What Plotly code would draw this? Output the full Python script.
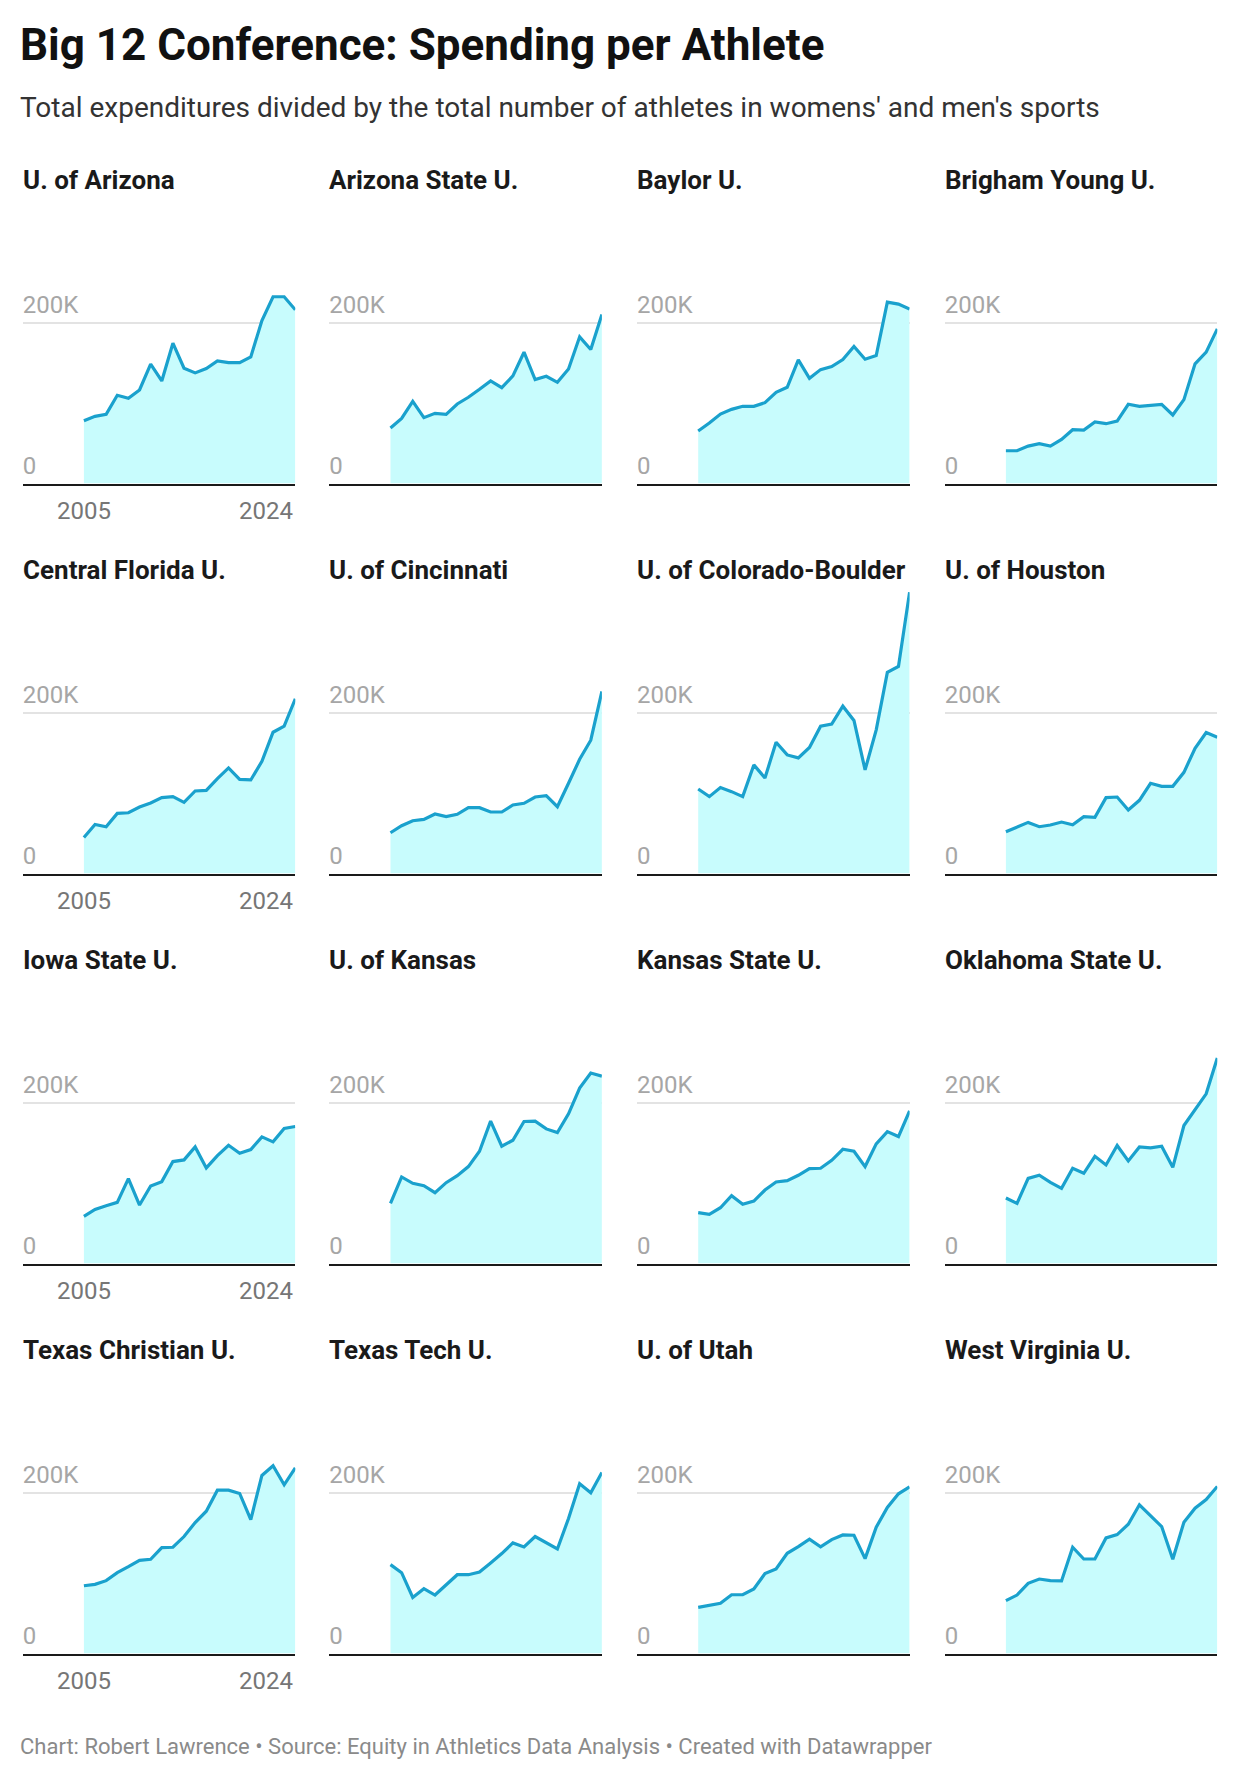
import plotly.graph_objects as go

years = list(range(2005, 2025))

schools = [
    "U. of Arizona", "Arizona State U.", "Baylor U.", "Brigham Young U.",
    "Central Florida U.", "U. of Cincinnati", "U. of Colorado-Boulder", "U. of Houston",
    "Iowa State U.", "U. of Kansas", "Kansas State U.", "Oklahoma State U.",
    "Texas Christian U.", "Texas Tech U.", "U. of Utah", "West Virginia U.",
]

# spending per athlete, thousands of dollars, 2005-2024
arizona = [78.0, 83.4, 85.9, 109.6, 105.8, 116.2, 148.2, 127.4, 174.3, 143.2, 137.4, 142.8, 152.3, 150.2, 150.2, 157.3, 202.5, 232.0, 232.0, 215.8]
arizona_state = [68.9, 80.9, 102.1, 81.8, 87.2, 85.9, 98.8, 107.1, 117.0, 127.4, 119.1, 133.6, 163.1, 129.1, 133.2, 125.7, 142.3, 182.2, 166.4, 210.0]
baylor = [65.2, 75.1, 86.3, 92.1, 95.9, 95.9, 100.4, 113.3, 119.5, 153.6, 130.7, 141.5, 145.3, 154.0, 170.2, 154.4, 158.9, 225.3, 222.9, 216.6]
byu = [40.7, 40.7, 46.5, 49.4, 46.5, 54.8, 66.8, 66.4, 76.4, 74.3, 77.6, 98.4, 95.9, 97.5, 98.4, 85.1, 104.2, 148.6, 163.1, 192.1]
ucf = [44.8, 61.0, 58.1, 74.7, 75.5, 82.6, 87.6, 94.2, 95.5, 88.4, 102.5, 103.3, 117.9, 131.1, 117.0, 116.2, 139.4, 175.5, 183.0, 217.0]
cincinnati = [50.6, 59.3, 65.6, 67.2, 73.9, 70.6, 73.5, 81.8, 81.8, 76.4, 76.4, 85.1, 87.2, 95.0, 96.7, 83.0, 112.1, 141.9, 165.6, 226.2]
colorado = [105.0, 95.5, 106.7, 101.7, 95.5, 134.9, 118.7, 163.1, 147.3, 143.6, 156.5, 183.0, 185.5, 207.9, 190.1, 128.7, 178.5, 249.8, 257.3, 349.4]
houston = [51.9, 57.7, 63.5, 58.1, 60.2, 63.9, 60.6, 70.6, 69.7, 94.2, 95.0, 78.9, 90.9, 112.1, 108.3, 108.3, 125.7, 155.6, 175.1, 169.3]
iowa_state = [58.5, 67.2, 71.8, 75.9, 105.4, 72.6, 96.3, 101.7, 126.6, 128.7, 144.8, 118.7, 134.0, 146.9, 137.0, 141.5, 157.3, 151.1, 167.7, 170.2]
kansas = [74.7, 107.5, 99.6, 96.7, 88.0, 100.4, 109.1, 120.4, 139.4, 176.8, 145.7, 153.1, 176.4, 176.8, 167.2, 162.7, 185.9, 217.9, 236.6, 232.8]
kansas_state = [63.1, 61.0, 69.3, 84.2, 73.5, 77.6, 91.3, 101.3, 102.9, 109.6, 117.9, 118.3, 128.2, 141.9, 139.4, 120.4, 148.6, 163.9, 157.7, 189.7]
oklahoma_state = [81.3, 74.7, 105.8, 109.6, 100.8, 93.4, 118.3, 112.1, 133.2, 122.4, 146.5, 127.4, 144.8, 143.6, 145.7, 119.5, 171.4, 190.5, 210.8, 255.2]
tcu = [84.2, 85.9, 90.5, 100.4, 107.9, 115.8, 117.0, 131.6, 132.0, 145.3, 162.7, 176.8, 202.9, 202.9, 198.8, 166.4, 221.2, 233.2, 209.6, 230.7]
texas_tech = [110.4, 100.4, 69.7, 80.5, 72.6, 85.9, 97.9, 97.9, 101.3, 112.5, 124.1, 137.4, 132.4, 145.3, 137.4, 129.9, 167.7, 210.8, 199.6, 224.9]
utah = [57.3, 59.8, 62.3, 73.0, 73.0, 80.1, 99.2, 105.0, 124.5, 132.8, 141.9, 132.4, 141.5, 147.3, 146.9, 117.9, 156.9, 181.4, 198.4, 207.1]
west_virginia = [65.6, 72.6, 87.2, 92.5, 90.5, 90.1, 132.0, 117.4, 117.4, 143.6, 147.7, 160.6, 184.7, 171.4, 157.7, 117.0, 163.1, 180.5, 191.3, 207.5]

series = [arizona, arizona_state, baylor, byu, ucf, cincinnati, colorado, houston,
          iowa_state, kansas, kansas_state, oklahoma_state, tcu, texas_tech, utah, west_virginia]

y_tick_vals = [0, 200000]
y_tick_text = ["0", "200K"]
x_label_years = [2005, 2024]

W, H = 1240, 1780
FONT = "Roboto"
LINE = "#1aa1cd"
FILL = "#c8fcfd"

col_left = [22.7, 329.3, 637.0, 944.7]
col_w = 272.6
row_base = [483.5, 873.5, 1263.5, 1653.5]
Y_MAX = 355000
px_per_unit = 161.0 / 200000
plot_h = Y_MAX * px_per_unit


def px_x(p):
    return p / W


def px_y(p):
    return 1 - p / H


fig = go.Figure()
annotations = []

for i, (name, vals) in enumerate(zip(schools, series)):
    n = i + 1
    r, c = divmod(i, 4)
    xa = "x" if n == 1 else f"x{n}"
    ya = "y" if n == 1 else f"y{n}"
    fig.add_trace(go.Scatter(
        x=years, y=[v * 1000 for v in vals], mode="lines",
        fill="tozeroy", fillcolor=FILL,
        line=dict(color=LINE, width=3.2, shape="linear"),
        xaxis=xa, yaxis=ya, hoverinfo="skip", showlegend=False,
    ))
    left = col_left[c]
    base = row_base[r]
    top = base - plot_h
    xkey = "xaxis" if n == 1 else f"xaxis{n}"
    ykey = "yaxis" if n == 1 else f"yaxis{n}"
    fig.layout[xkey] = dict(
        domain=[px_x(left), px_x(left + col_w)], anchor=ya,
        range=[1999.5, 2024], showgrid=False, zeroline=False,
        showticklabels=False, ticks="", showline=True,
        linecolor="#1a1a1a", linewidth=2, fixedrange=True,
    )
    fig.layout[ykey] = dict(
        domain=[px_y(base), px_y(top)], anchor=xa,
        range=[0, Y_MAX], tickvals=y_tick_vals, ticktext=y_tick_text,
        ticklabelposition="inside top", ticklabelshift=-1, ticklabelstandoff=-3,
        tickfont=dict(family=FONT, size=24, color="#a6a6a6"),
        showgrid=True, gridcolor="#e3e3e3", gridwidth=1.5,
        zeroline=False, showline=False, ticks="", fixedrange=True,
    )
    annotations.append(dict(
        text=name, x=px_x(left - 2), y=px_y(base - 304), xref="paper", yref="paper",
        xanchor="left", yanchor="middle", showarrow=False,
        font=dict(family=FONT, size=26, color="#1a1a1a", weight=700),
    ))
    if c == 0:
        for yr in x_label_years:
            annotations.append(dict(
                text=str(yr), x=yr, xref=xa, y=px_y(base + 27), yref="paper",
                xanchor="center" if yr == x_label_years[0] else "right",
                yanchor="middle", showarrow=False,
                font=dict(family=FONT, size=24, color="#767676"),
            ))

annotations.append(dict(
    text="Big 12 Conference: Spending per Athlete", x=px_x(18), y=px_y(45),
    xref="paper", yref="paper", xanchor="left", yanchor="middle", showarrow=False,
    font=dict(family=FONT, size=44, color="#111111", weight=700),
))
annotations.append(dict(
    text="Total expenditures divided by the total number of athletes in womens' and men's sports",
    x=px_x(18), y=px_y(107), xref="paper", yref="paper", xanchor="left", yanchor="middle",
    showarrow=False, font=dict(family=FONT, size=28, color="#333333"),
))
annotations.append(dict(
    text="Chart: Robert Lawrence \u2022 Source: Equity in Athletics Data Analysis \u2022 Created with Datawrapper",
    x=px_x(18), y=px_y(1746), xref="paper", yref="paper", xanchor="left", yanchor="middle",
    showarrow=False, font=dict(family=FONT, size=22, color="#8a8a8a"),
))

fig.update_layout(
    width=W, height=H, margin=dict(l=0, r=0, t=0, b=0),
    paper_bgcolor="white", plot_bgcolor="white",
    showlegend=False, annotations=annotations,
)

fig.write_html("out.html", config={"displayModeBar": False})
